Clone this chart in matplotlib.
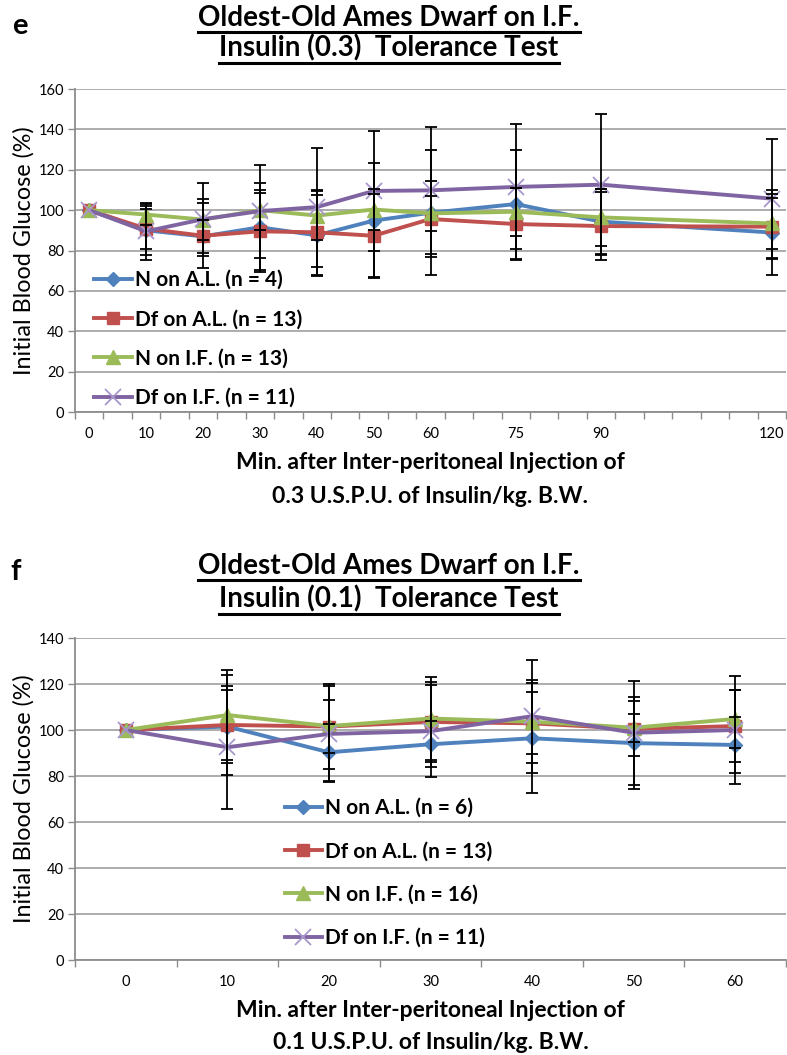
import matplotlib
matplotlib.use("Agg")
import matplotlib.pyplot as plt
from matplotlib.lines import Line2D
import numpy as np

plt.rcParams['font.family'] = ['Lato', 'DejaVu Sans']

# ---------------- data: panel e (0.3 U insulin) ----------------
top_x = [0, 10, 20, 30, 40, 50, 60, 75, 90, 120]
top_n_al = [100, 90, 87, 91.5, 87.5, 94.8, 98.7, 103, 94.3, 88.9]
top_df_al = [100, 90.8, 87.3, 89.5, 89, 87.3, 95.6, 93.1, 92.1, 91.8]
top_n_if = [100, 97.8, 95.3, 100, 97.3, 100.3, 98.4, 99.2, 96.4, 93.4]
top_df_if = [100, 89.5, 95.5, 99.5, 101.5, 109.5, 109.8, 111.5, 112.6, 105.7]
top_n_al_err = [0, 12, 8, 22, 20, 28.5, 31, 27, 16, 21]
top_df_al_err = [0, 10, 16, 19, 21, 20.5, 19, 18, 17, 16]
top_n_if_err = [0, 5, 10, 10, 12, 10, 8.5, 12, 14, 12.5]
top_df_if_err = [0, 14, 18, 23, 29.5, 29.5, 31.5, 31, 35, 29.5]
top_labels = ["N on A.L. (n = 4)", "Df on A.L. (n = 13)",
              "N on I.F. (n = 13)", "Df on I.F. (n = 11)"]

# ---------------- data: panel f (0.1 U insulin) ----------------
bot_x = [0, 10, 20, 30, 40, 50, 60]
bot_n_al = [100, 101.5, 90.3, 93.8, 96.4, 94.3, 93.5]
bot_df_al = [100, 102.2, 101.5, 103.5, 102.9, 100.5, 101.7]
bot_n_if = [100, 106.5, 101.7, 105, 103.6, 101, 104.8]
bot_df_if = [100, 92.5, 98.3, 99.5, 106, 98.8, 100]
bot_n_al_err = [0, 16, 12.5, 10, 24, 20, 12]
bot_df_al_err = [0, 21.7, 11.5, 17.5, 13.5, 12, 15.5]
bot_n_if_err = [0, 19.5, 18.5, 18, 18, 6, 12.6]
bot_df_if_err = [0, 26.8, 21, 20, 24.5, 22.5, 23.5]
bot_labels = ["N on A.L. (n = 6)", "Df on A.L. (n = 13)",
              "N on I.F. (n = 16)", "Df on I.F. (n = 11)"]

colors = ['#4F81BD', '#C0504D', '#9BBB59', '#8064A2']
GRID = '#A6A6A6'
AXC = '#8C8C8C'

fig = plt.figure(figsize=(7.87, 10.55), dpi=100)


def series_style(i):
    if i == 0:
        return dict(marker='D', markersize=7, markerfacecolor=colors[0], markeredgecolor=colors[0])
    if i == 1:
        return dict(marker='s', markersize=8.5, markerfacecolor=colors[1], markeredgecolor=colors[1])
    if i == 2:
        return dict(marker='^', markersize=9.5, markerfacecolor=colors[2], markeredgecolor=colors[2])
    return dict(marker='x', markersize=11, markeredgecolor='#A897CC', markeredgewidth=1.3)


def draw_panel(ax, x, ys, errs, labels, ymax, xlim, minor, leg_anchor, leg_spacing):
    for i, (y, e) in enumerate(zip(ys, errs)):
        ax.plot(x, y, color=colors[i], lw=2.8, label=labels[i], zorder=3 + i, **series_style(i))
    for i, (y, e) in enumerate(zip(ys, errs)):
        ax.errorbar(x[1:], y[1:], yerr=e[1:], fmt='none', ecolor='black',
                    elinewidth=1.3, capsize=4.5, capthick=1.3, zorder=10)
    ax.set_ylim(0, ymax)
    ax.set_xlim(*xlim)
    ax.set_yticks(np.arange(0, ymax + 1, 20))
    ax.set_xticks(x)
    ax.set_xticklabels([str(v) for v in x])
    ax.set_xticks(minor, minor=True)
    ax.tick_params(axis='x', which='major', length=0, pad=11, labelsize=10.5)
    ax.tick_params(axis='x', which='minor', length=5, width=1, color=AXC, direction='out')
    ax.tick_params(axis='y', length=5, width=1, color=AXC, labelsize=10.5, pad=3)
    ax.yaxis.grid(True, color=GRID, lw=1.3)
    ax.set_axisbelow(True)
    for s in ['top', 'right']:
        ax.spines[s].set_visible(False)
    for s in ['left', 'bottom']:
        ax.spines[s].set_color(AXC)
        ax.spines[s].set_linewidth(1.3)
    leg = ax.legend(loc='upper left', bbox_to_anchor=leg_anchor, frameon=False,
                    borderpad=0, borderaxespad=0, handlelength=1.8, handletextpad=0.15,
                    labelspacing=leg_spacing, numpoints=1,
                    prop=dict(family='Lato', weight='bold', size=15))
    leg.set_zorder(20)
    ax.set_ylabel("Initial Blood Glucose (%)", fontsize=16.8, labelpad=3)


ax1 = fig.add_axes([75 / 787, 1 - 412 / 1055, 711 / 787, 323 / 1055])
draw_panel(ax1, top_x, [top_n_al, top_df_al, top_n_if, top_df_if],
           [top_n_al_err, top_df_al_err, top_n_if_err, top_df_if_err], top_labels,
           160, (-2.5, 122.5), np.arange(-2.5, 123, 5), (0.027, 0.44), 0.93)
ax1.set_xlabel("Min. after Inter-peritoneal Injection of\n0.3 U.S.P.U. of Insulin/kg. B.W.",
               fontsize=16.5, fontweight='bold', linespacing=1.75, labelpad=8)

ax2 = fig.add_axes([75 / 787, 1 - 960 / 1055, 711 / 787, 322 / 1055])
draw_panel(ax2, bot_x, [bot_n_al, bot_df_al, bot_n_if, bot_df_if],
           [bot_n_al_err, bot_df_al_err, bot_n_if_err, bot_df_if_err], bot_labels,
           140, (-5, 65), np.arange(-5, 66, 10), (0.295, 0.503), 1.12)
ax2.set_xlabel("Min. after Inter-peritoneal Injection of\n0.1 U.S.P.U. of Insulin/kg. B.W.",
               fontsize=16.5, fontweight='bold', linespacing=1.65, labelpad=8)

# titles
titles = [
    (18, "Oldest-Old Ames Dwarf on I.F."),
    (48, "Insulin (0.3)  Tolerance Test"),
    (566, "Oldest-Old Ames Dwarf on I.F."),
    (599, "Insulin (0.1)  Tolerance Test"),
]
title_objs = []
for ypx, txt in titles:
    t = fig.text(389 / 787, 1 - ypx / 1055, txt, ha='center', va='center',
                 fontsize=20, fontweight='bold')
    title_objs.append(t)

fig.text(12 / 787, 1 - 26 / 1055, "e", fontsize=21, fontweight='bold', va='center', ha='left')
fig.text(10 / 787, 1 - 572 / 1055, "f", fontsize=21, fontweight='bold', va='center', ha='left')

fig.canvas.draw()
r = fig.canvas.get_renderer()
W, H = fig.bbox.width, fig.bbox.height
for t in title_objs:
    bb = t.get_window_extent(r)
    yline = bb.y0 - 1
    fig.add_artist(Line2D([bb.x0 / W, bb.x1 / W], [yline / H, yline / H],
                          color='black', lw=2.2, transform=fig.transFigure))

fig.savefig("out.png", dpi=100)
